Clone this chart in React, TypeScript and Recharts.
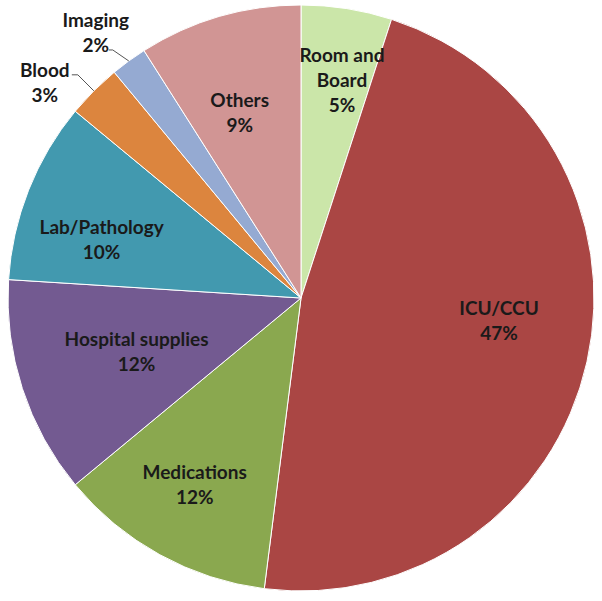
import { PieChart, Pie, Cell } from "recharts";

const categories = [
  "Room and Board",
  "ICU/CCU",
  "Medications",
  "Hospital supplies",
  "Lab/Pathology",
  "Blood",
  "Imaging",
  "Others",
];
const shares = [5, 47, 12, 12, 10, 3, 2, 9];
const nameLines = [
  ["Room and", "Board"],
  ["ICU/CCU"],
  ["Medications"],
  ["Hospital supplies"],
  ["Lab/Pathology"],
  ["Blood"],
  ["Imaging"],
  ["Others"],
];

const COLORS = [
  "#cbe6a9",
  "#aa4644",
  "#8aa84f",
  "#735a91",
  "#4299af",
  "#dc853e",
  "#95aad2",
  "#d19594",
];

// label placement: fraction of radius + clockwise angle tweak (deg)
const LABEL_R = [0.76, 0.68, 0.73, 0.59, 0.71, 0, 0, 0.67];
const LABEL_DA = [1.6, -6.3, 1, 0, -5, 0, 0, -2];

// outside labels: elbow offset from edge, text offset from elbow
const OUTSIDE: Record<number, { ex: number; ey: number; hx: number; tx: number; ty: number }> = {
  5: { ex: -16, ey: -16, hx: -6, tx: -33, ty: -5 },
  6: { ex: -16, ey: -11, hx: -4, tx: -17, ty: -30 },
};

const data = categories.map((name, i) => ({ name, value: shares[i] }));

const RADIAN = Math.PI / 180;
const LINE_H = 25;
const FONT = "Lato, 'Open Sans', sans-serif";
const FONT_SIZE = 19;

function renderLabel(props: any) {
  const { cx, cy, midAngle, outerRadius, index } = props;
  const lines = [...nameLines[index], `${shares[index]}%`];
  const out = OUTSIDE[index];
  if (out) {
    const ex = cx + outerRadius * Math.cos(-midAngle * RADIAN);
    const ey = cy + outerRadius * Math.sin(-midAngle * RADIAN);
    const bx = ex + out.ex;
    const by = ey + out.ey;
    const tx = bx + out.tx;
    const ty = by + out.ty;
    return (
      <g>
        <polyline
          points={`${ex},${ey} ${bx},${by} ${bx + out.hx},${by}`}
          fill="none"
          stroke="#555"
          strokeWidth={1}
        />
        {lines.map((t, k) => (
          <text
            key={k}
            x={tx}
            y={ty + k * LINE_H}
            textAnchor="middle"
            dominantBaseline="central"
            fill="#1a1a1a"
            fontFamily={FONT}
            fontWeight={700}
            fontSize={FONT_SIZE}
          >
            {t}
          </text>
        ))}
      </g>
    );
  }
  const ang = midAngle - LABEL_DA[index];
  const r = outerRadius * LABEL_R[index];
  const x = cx + r * Math.cos(-ang * RADIAN);
  const y = cy + r * Math.sin(-ang * RADIAN);
  const top = y - ((lines.length - 1) * LINE_H) / 2;
  return (
    <g>
      {lines.map((t, k) => (
        <text
          key={k}
          x={x}
          y={top + k * LINE_H}
          textAnchor="middle"
          dominantBaseline="central"
          fill="#1a1a1a"
          fontFamily={FONT}
          fontWeight={700}
          fontSize={FONT_SIZE}
        >
          {t}
        </text>
      ))}
    </g>
  );
}

export default function App() {
  return (
    <div style={{ position: "absolute", left: 0, top: 0, background: "#fff" }}>
      <PieChart
        width={602}
        height={601}
        margin={{ top: 0, right: 0, bottom: 0, left: 0 }}
      >
        <Pie
          data={data}
          dataKey="value"
          nameKey="name"
          cx={301}
          cy={298}
          outerRadius={293}
          startAngle={90}
          endAngle={-270}
          stroke="#fff"
          strokeWidth={1}
          label={renderLabel}
          labelLine={false}
          isAnimationActive={false}
        >
          {data.map((_, i) => (
            <Cell key={`cell-${i}`} fill={COLORS[i]} />
          ))}
        </Pie>
      </PieChart>
    </div>
  );
}
